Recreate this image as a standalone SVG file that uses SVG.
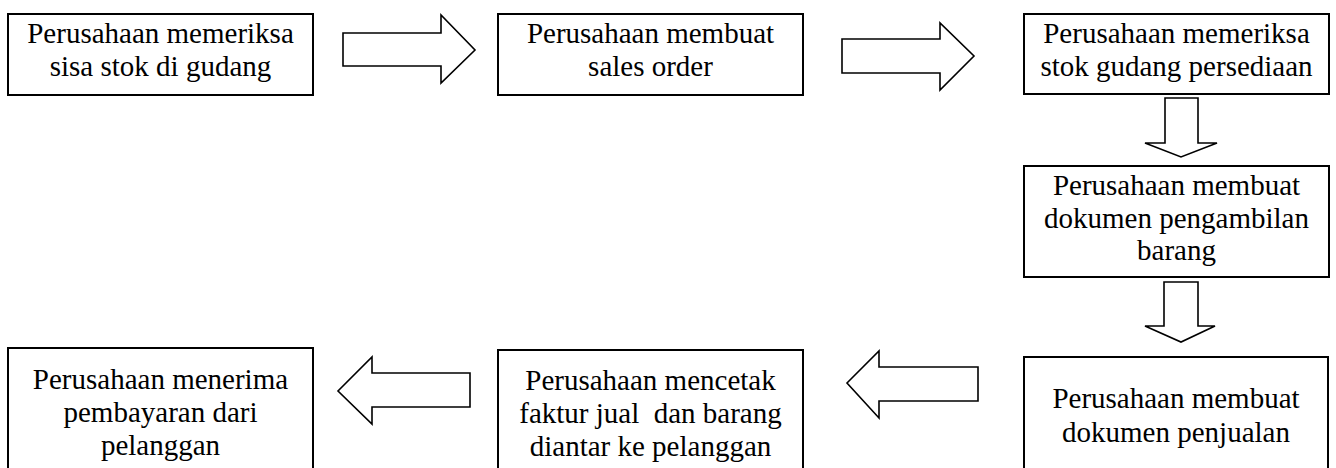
<svg xmlns="http://www.w3.org/2000/svg" width="1336" height="468" viewBox="0 0 1336 468">
<style>
.box{fill:#fff;stroke:#000;stroke-width:2}
.arr{fill:#fff;stroke:#000;stroke-width:1.6;stroke-linejoin:miter}
text{font-family:"Liberation Serif","Times New Roman",serif;font-size:29px;fill:#000;text-anchor:middle;white-space:pre}
</style>
<rect width="1336" height="468" fill="#fff"/>
<g id="connectors">
<polygon class="arr" points="343,33 441,33 441,15 475,50 441,83 441,66 343,66"/>
<polygon class="arr" points="842,39 940,39 940,23 974,56 940,90 940,73 842,73"/>
<polygon class="arr" points="1165,98 1198,98 1198,143 1217,143 1181,157 1145,143 1165,143"/>
<polygon class="arr" points="1164,282 1198,282 1198,326 1215,326 1181,342 1145,326 1164,326"/>
<polygon class="arr" points="978,367 879,367 879,351 847,383 879,418 879,401 978,401"/>
<polygon class="arr" points="470,373 372,373 372,357 338,391 372,424 372,407 470,407"/>
</g>
<g id="n1"><rect class="box" x="8" y="14" width="305" height="81"/><text x="160.5" y="43">Perusahaan memeriksa</text><text x="160.5" y="76">sisa stok di gudang</text></g>
<g id="n2"><rect class="box" x="498" y="14" width="305" height="81"/><text x="650.5" y="43">Perusahaan membuat</text><text x="650.5" y="76">sales order</text></g>
<g id="n3"><rect class="box" x="1024" y="14" width="305" height="80"/><text x="1176.5" y="43">Perusahaan memeriksa</text><text x="1176.5" y="76">stok gudang persediaan</text></g>
<g id="n4"><rect class="box" x="1024" y="166" width="305" height="111"/><text x="1176.5" y="195">Perusahaan membuat</text><text x="1176.5" y="228">dokumen pengambilan</text><text x="1176.5" y="260">barang</text></g>
<g id="n5"><rect class="box" x="1024" y="357" width="304" height="120"/><text x="1176" y="408">Perusahaan membuat</text><text x="1176" y="442">dokumen penjualan</text></g>
<g id="n6"><rect class="box" x="498" y="350" width="305" height="127"/><text x="650.5" y="390">Perusahaan mencetak</text><text x="650.5" y="423">faktur jual  dan barang</text><text x="650.5" y="456">diantar ke pelanggan</text></g>
<g id="n7"><rect class="box" x="8" y="348" width="305" height="129"/><text x="160.5" y="389">Perusahaan menerima</text><text x="160.5" y="422">pembayaran dari</text><text x="160.5" y="455">pelanggan</text></g>
</svg>
